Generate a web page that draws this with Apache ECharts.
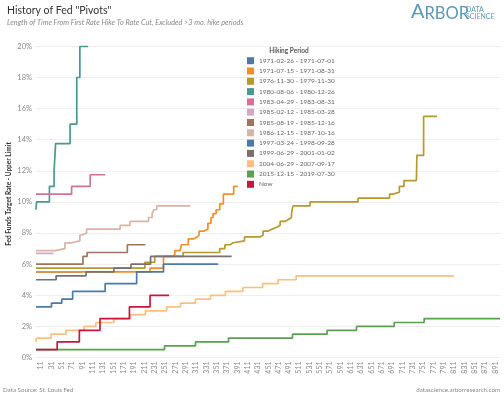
<!DOCTYPE html>
<html>
<head>
<meta charset="utf-8">
<script src="https://cdn.jsdelivr.net/npm/echarts@6/dist/echarts.min.js"></script>
<style>
  html, body { margin: 0; padding: 0; background: #fff; }
  #chart { width: 504px; height: 397px; }
</style>
</head>
<body>
<div id="chart"></div>
<script>
// x axis: days since first hike (1..900), y: fed funds target upper limit (%)
const days = Array.from({ length: 900 }, (_, i) => String(i + 1));

const periods = [
  '1971-02-26 - 1971-07-01', '1971-07-15 - 1971-08-31', '1976-11-30 - 1979-11-30',
  '1980-08-06 - 1980-12-26', '1983-04-29 - 1983-08-31', '1985-02-12 - 1985-03-28',
  '1985-08-19 - 1985-12-16', '1986-12-15 - 1987-10-16', '1997-03-24 - 1998-09-28',
  '1999-06-29 - 2001-01-02', '2004-06-29 - 2007-09-17', '2015-12-15 - 2019-07-30', 'Now'
];
const colors = [
  '#4e79a7', '#f28e2b', '#b6992d', '#499894', '#d37295', '#d4a6c8', '#9d7660',
  '#d7b5a6', '#4e79a7', '#79706e', '#ffbe7d', '#59a14f', '#c8163e'
];

// [day, rate] pairs
const p1971a = [[1, 5.5], [90, 5.5]];
const p1971b = [[1, 5.5], [222, 5.75], [248, 6.5], [266, 6.625], [270, 6.875], [280, 7.0], [283, 7.25],
  [296, 7.625], [306, 7.75], [313, 7.875], [317, 8.125], [327, 8.25], [334, 8.625], [340, 9.0],
  [344, 9.25], [350, 9.5], [357, 9.875], [364, 10.5], [384, 11.0], [392, 11.0]];
const p1976 = [[1, 5.75], [212, 6.125], [231, 6.5], [286, 6.75], [357, 7.0], [367, 7.25], [377, 7.375],
  [383, 7.5], [405, 7.75], [435, 7.875], [441, 8.125], [451, 8.25], [458, 8.375], [467, 8.5],
  [474, 8.75], [483, 8.875], [490, 9.0], [496, 9.25], [499, 9.75], [532, 10.0], [625, 10.25],
  [686, 10.5], [693, 10.625], [705, 11.0], [714, 11.375], [738, 11.5], [739, 13.0], [752, 15.5], [778, 15.5]];
const p1980 = [[1, 9.5], [2, 10], [27, 11], [36, 12], [39, 13.75], [67, 15], [80, 18], [86, 20], [102, 20]];
const p1983 = [[1, 10.5], [70, 11], [106, 11.75], [135, 11.75]];
const p1985a = [[1, 6.7], [35, 6.7]];
const p1985b = [[1, 6.0], [92, 6.5], [100, 6.75], [178, 7.25], [213, 7.25]];
const p1986 = [[1, 6.875], [38, 7.0], [57, 7.375], [70, 7.5], [86, 7.875], [91, 8.0], [99, 8.25],
  [164, 8.5], [183, 8.75], [219, 9.0], [226, 9.25], [229, 9.5], [235, 9.75], [300, 9.75]];
const p1997 = [[1, 3.25], [31, 3.5], [51, 3.75], [72, 4.25], [135, 4.75], [196, 5.5], [248, 6.0], [354, 6.0]];
const p1999 = [[1, 5.0], [40, 5.25], [98, 5.5], [152, 5.75], [185, 6.0], [223, 6.5], [380, 6.5]];
const p2004 = [[1, 1.0], [2, 1.25], [30, 1.5], [59, 1.75], [94, 2.0], [117, 2.25], [152, 2.5], [184, 2.75],
  [213, 3.0], [254, 3.25], [281, 3.5], [310, 3.75], [339, 4.0], [368, 4.25], [402, 4.5], [440, 4.75],
  [470, 5.0], [505, 5.25], [811, 5.25]];
const p2015 = [[1, 0.5], [250, 0.75], [310, 1.0], [374, 1.25], [498, 1.5], [565, 1.75], [622, 2.0],
  [695, 2.25], [753, 2.5], [900, 2.5]];
const pNow = [[1, 0.5], [42, 1.0], [85, 1.75], [125, 2.5], [182, 3.25], [222, 4.0], [259, 4.0]];

const periodData = [p1971a, p1971b, p1976, p1980, p1983, p1985a, p1985b, p1986, p1997, p1999, p2004, p2015, pNow];

const FONT = 'Lato, "Noto Sans", sans-serif';
const chart = echarts.init(document.getElementById('chart'), null, { renderer: 'canvas' });

const series = periods.map((name, i) => ({
  name: name,
  type: 'line',
  step: 'end',
  showSymbol: false,
  color: colors[i],
  lineStyle: { width: 1.7 },
  data: periodData[i].map(d => [String(d[0]), d[1]])
}));

chart.setOption({
  animation: false,
  textStyle: { fontFamily: FONT },
  title: {
    text: 'History of Fed "Pivots"',
    subtext: 'Length of Time From First Rate Hike To Rate Cut, Excluded >3 mo. hike periods',
    left: 2,
    top: 0,
    itemGap: 3,
    textStyle: { fontSize: 10.5, fontWeight: 'normal', color: '#333', fontFamily: FONT },
    subtextStyle: { fontSize: 7.3, fontStyle: 'italic', color: '#888', fontFamily: FONT }
  },
  legend: {
    orient: 'vertical',
    left: 247,
    top: 56.7,
    padding: 0,
    icon: 'rect',
    itemWidth: 7,
    itemHeight: 7,
    itemGap: 2.3,
    textStyle: { fontSize: 6.5, lineHeight: 8, color: '#666', fontFamily: FONT },
    data: periods
  },
  grid: { left: 36, right: 4, top: 46.4, bottom: 39.5 },
  xAxis: {
    type: 'category',
    data: days,
    boundaryGap: false,
    axisLine: { show: false },
    axisTick: { show: false },
    splitLine: { show: false },
    axisLabel: {
      rotate: 90,
      fontSize: 7,
      color: '#888',
      margin: 4,
      interval: (idx) => (idx - 10) % 20 === 0
    }
  },
  yAxis: {
    type: 'value',
    min: 0,
    max: 20,
    interval: 2,
    axisLine: { show: false },
    axisTick: { show: false },
    splitLine: { lineStyle: { color: '#eeeeee', width: 1 } },
    axisLabel: { formatter: '{value}%', fontSize: 7.5, color: '#888', margin: 4 }
  },
  graphic: [
    {
      type: 'text', x: 9, y: 194, rotation: Math.PI / 2,
      style: { text: 'Fed Funds Target Rate - Upper Limit', font: 'bold 6.5px ' + FONT, fill: '#333', align: 'center', verticalAlign: 'middle' }
    },
    {
      type: 'text', x: 289, y: 51,
      style: { text: 'Hiking Period', font: 'bold 6.5px ' + FONT, fill: '#555', align: 'center', verticalAlign: 'middle' }
    },
    {
      type: 'text', x: 411, y: 22,
      style: { text: 'A', font: '20px ' + FONT, fill: '#5a98b5', align: 'left', verticalAlign: 'bottom' }
    },
    {
      type: 'text', x: 424.5, y: 22,
      style: { text: 'RBOR', font: '16.5px ' + FONT, fill: '#5a98b5', align: 'left', verticalAlign: 'bottom' }
    },
    {
      type: 'text', x: 466, y: 10,
      style: { text: 'DATA', font: '7px ' + FONT, fill: '#5a98b5', align: 'left', verticalAlign: 'middle' }
    },
    {
      type: 'text', x: 466, y: 16.5,
      style: { text: 'SCIENCE', font: '7px ' + FONT, fill: '#5a98b5', align: 'left', verticalAlign: 'middle' }
    },
    {
      type: 'text', x: 3, y: 390,
      style: { text: 'Data Source: St. Louis Fed', font: '6.2px ' + FONT, fill: '#888', align: 'left', verticalAlign: 'middle' }
    },
    {
      type: 'text', x: 500, y: 390,
      style: { text: 'datascience.arborresearch.com', font: '6.2px ' + FONT, fill: '#888', align: 'right', verticalAlign: 'middle' }
    }
  ],
  series: series
});

window.addEventListener('resize', () => chart.resize());
</script>
</body>
</html>
